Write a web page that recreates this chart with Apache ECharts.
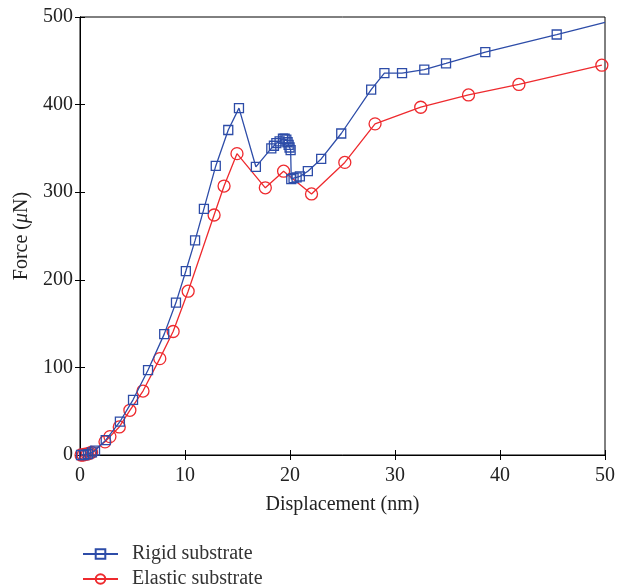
<!DOCTYPE html>
<html>
<head>
<meta charset="utf-8">
<script src="https://cdn.jsdelivr.net/npm/echarts@6/dist/echarts.min.js"></script>
<style>
  html, body { margin: 0; padding: 0; background: #fff; }
  #chart { width: 618px; height: 588px; }
</style>
</head>
<body>
<div id="chart"></div>
<script>
// values
const rigidDisp = [0.1, 0.4, 0.76, 1.14, 1.43, 2.45, 3.8, 5.05, 6.48, 8.02, 9.14, 10.08, 10.96, 11.8, 12.93, 14.12, 15.14, 16.75,
  18.22, 18.47, 18.7, 19.01, 19.33, 19.49, 19.65, 19.77, 19.87, 19.96, 20.06, 20.12, 20.34, 20.63, 20.94, 21.7, 22.97,
  24.88, 27.73, 28.99, 30.67, 32.79, 34.86, 38.6, 45.4, 50];
const rigidForce = [0, 0, 1, 3, 5, 17, 38, 63, 97, 138, 174, 210, 245, 281, 330, 371, 396, 329,
  350, 353, 356, 358, 361, 361, 360, 357, 354, 351, 348, 315, 316, 317, 318, 324, 338,
  367, 417, 436, 436, 440, 447, 460, 480, 494];
const elasticDisp = [0.1, 0.3, 0.5, 0.7, 0.9, 1.1, 2.38, 2.85, 3.74, 4.75, 6.0, 7.6, 8.87, 10.3, 12.77, 13.72, 14.95, 17.65,
  19.39, 22.05, 25.22, 28.1, 32.45, 37.0, 41.8, 49.7];
const elasticForce = [0, 0, 1, 1, 2, 3, 15, 21, 32, 51, 73, 110, 141, 187, 274, 307, 344, 305,
  324, 298, 334, 378, 397, 411, 423, 445];
const xTicks = [0, 10, 20, 30, 40, 50];
const yTicks = [0, 100, 200, 300, 400, 500];

const blue = '#2d4ca8';
const red = '#ee2a2e';
const font = 'Liberation Serif';

const chart = echarts.init(document.getElementById('chart'));

const zip = (xs, ys) => xs.map((x, i) => [x, ys[i]]);

// the rigid curve runs to the frame edge without a marker on its last point
const rigidData = zip(rigidDisp, rigidForce).map((p, i, arr) =>
  i === arr.length - 1 ? { value: p, symbol: 'none' } : p);

const axisCommon = {
  type: 'value',
  interval: 10,
  axisLine: { show: true, lineStyle: { color: '#000', width: 1 } },
  axisTick: { show: true, inside: true, length: 5, lineStyle: { color: '#000' } },
  splitLine: { show: false }
};

chart.setOption({
  animation: false,
  textStyle: { fontFamily: font },
  grid: { left: 80, right: 13, top: 17, bottom: 133, show: true, borderColor: '#000', borderWidth: 1 },
  legend: {
    orient: 'vertical',
    left: 82,
    top: 544,
    height: 60,
    padding: 0,
    itemWidth: 35,
    itemHeight: 12,
    itemGap: 5,
    textStyle: { fontFamily: font, fontSize: 20, color: '#333', padding: [0, 0, 0, 9] },
    data: ['Rigid substrate', 'Elastic substrate']
  },
  xAxis: [
    Object.assign({}, axisCommon, {
      min: xTicks[0], max: xTicks[xTicks.length - 1],
      name: 'Displacement (nm)',
      nameLocation: 'middle',
      nameGap: 40,
      nameTextStyle: { fontFamily: font, fontSize: 20, color: '#222' },
      axisLabel: { margin: 11, fontFamily: font, fontSize: 20, color: '#222' }
    }),
    Object.assign({}, axisCommon, {
      position: 'top', min: 0, max: 50,
      axisLabel: { show: false }
    })
  ],
  yAxis: [
    Object.assign({}, axisCommon, {
      min: yTicks[0], max: yTicks[yTicks.length - 1], interval: 100,
      name: '{a|Force (}{i|μ}{a|N)}',
      nameLocation: 'middle',
      nameGap: 47,
      nameRotate: 90,
      nameTextStyle: {
        rich: {
          a: { fontFamily: font, fontSize: 20, color: '#222' },
          i: { fontFamily: font, fontSize: 20, fontStyle: 'italic', color: '#222' }
        }
      },
      axisLabel: { margin: 7, fontFamily: font, fontSize: 20, color: '#222' }
    }),
    Object.assign({}, axisCommon, {
      position: 'right', min: 0, max: 500, interval: 100,
      axisLabel: { show: false }
    })
  ],
  series: [
    {
      name: 'Rigid substrate',
      type: 'line',
      data: rigidData,
      symbol: 'rect',
      symbolSize: 9,
      showAllSymbol: true,
      lineStyle: { color: blue, width: 1.3 },
      itemStyle: { color: 'rgba(255,255,255,0)', borderColor: blue, borderWidth: 1.3 },
      z: 3
    },
    {
      name: 'Elastic substrate',
      type: 'line',
      data: zip(elasticDisp, elasticForce),
      symbol: 'circle',
      symbolSize: 12,
      showAllSymbol: true,
      lineStyle: { color: red, width: 1.3 },
      itemStyle: { color: 'rgba(255,255,255,0)', borderColor: red, borderWidth: 1.3 },
      z: 2
    }
  ]
});
</script>
</body>
</html>
